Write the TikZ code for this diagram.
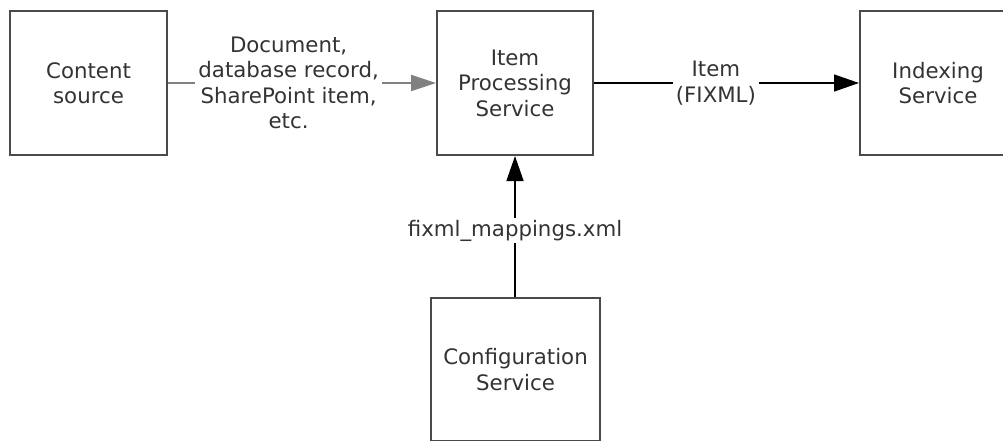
\documentclass[tikz,border=0pt]{standalone}
\usepackage{fontspec}
\setmainfont{DejaVu Sans}
\usetikzlibrary{arrows.meta}
\definecolor{boxc}{HTML}{4A4A4A}
\definecolor{txt}{HTML}{333333}
\definecolor{garrc}{HTML}{808080}
\begin{document}
\begin{tikzpicture}[x=1pt,y=-1pt,
  box/.style={draw=boxc, line width=2pt, fill=white, minimum height=144pt,
    align=center, text=txt, font=\fontsize{21.3}{25.5}\selectfont, inner sep=0pt, anchor=north west},
  lbl/.style={fill=white, align=center, text=txt, font=\fontsize{21.3}{25.5}\selectfont, inner sep=3pt},
  garr/.style={draw=garrc, line width=1.8pt, -{Triangle[length=25pt,width=16pt]}},
  barr/.style={draw=black, line width=1.4pt, -{Triangle[length=25pt,width=17pt]}}]
\useasboundingbox (0,0) rectangle (1003,441);
\clip (0,0) rectangle (1003,441);
\node[box, minimum width=157pt] (cs) at (9,10) {Content\\source};
\node[box, minimum width=156pt] (ips) at (436,10) {Item\\Processing\\Service};
\node[box, minimum width=156pt] (idx) at (859,10) {Indexing\\Service};
\node[box, minimum width=169pt, minimum height=143pt] (cfg) at (430,297) {Configuration\\Service};
\draw[garr] (cs) -- node[lbl, pos=0.45] {Document,\\database record,\\SharePoint item,\\etc.} (ips);
\draw[barr] (ips) -- node[lbl, pos=0.46] {Item\\(FIXML)} (idx);
\draw[barr] (cfg.north -| ips.south) -- node[lbl, pos=0.47, inner ysep=2pt] {fixml\_mappings.xml} (ips.south);
\end{tikzpicture}
\end{document}
